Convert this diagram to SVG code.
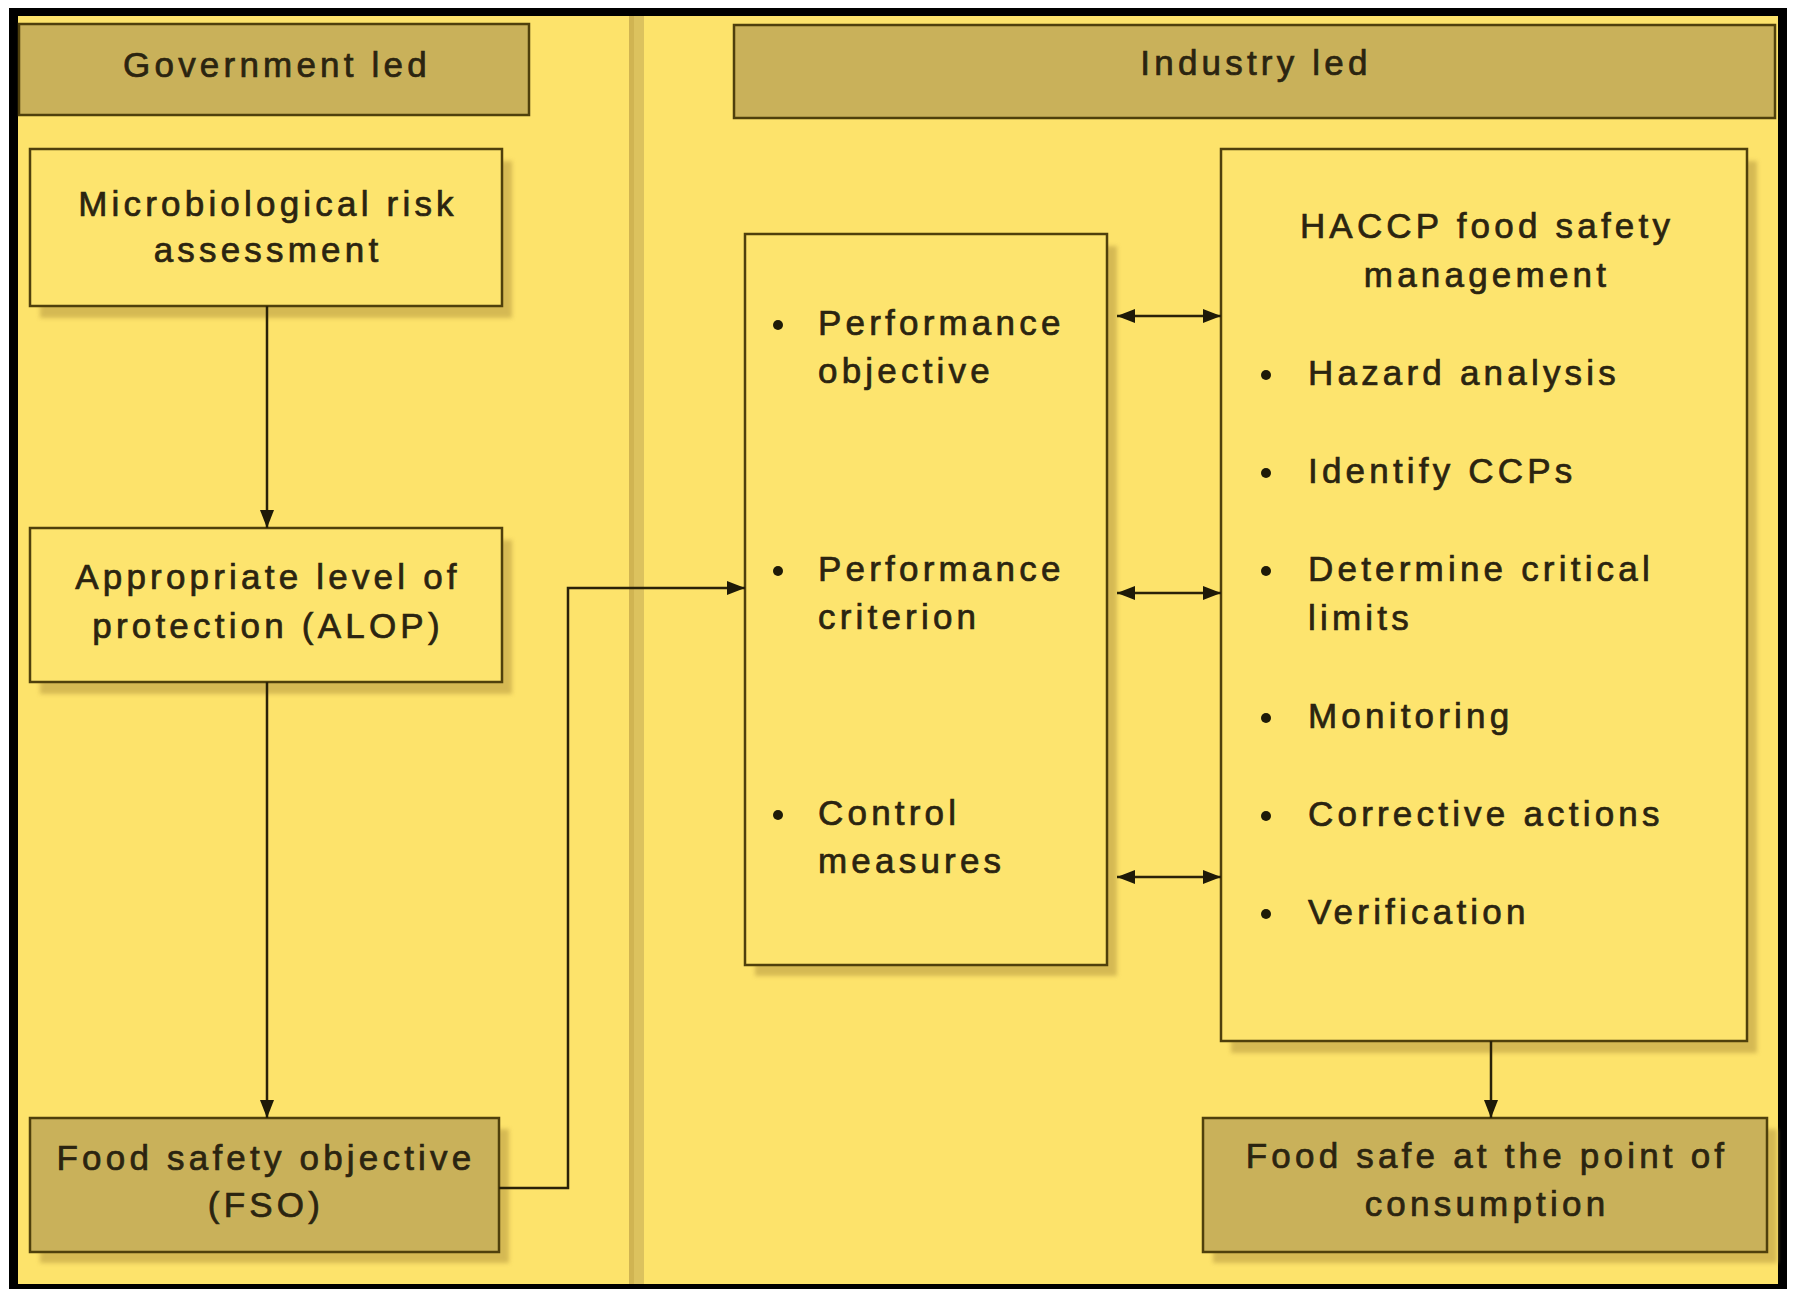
<svg xmlns="http://www.w3.org/2000/svg" width="1795" height="1289" viewBox="0 0 1795 1289">
  <style>
    .bg { fill: #fde36b; }
    .box { fill: #fde46e; stroke: #4f400c; stroke-width: 2.5; }
    .dark { fill: #c9b15a; stroke: #4f400c; stroke-width: 2.5; }
    .shadow { fill: #cfb250; opacity: 0.85; }
    text { font-family: "Liberation Sans", Arial, sans-serif; font-size: 35px; letter-spacing: 4.2px; fill: #2b2410; stroke: #2b2410; stroke-width: 0.7px; }
    .c { text-anchor: middle; }
    .bullet { fill: #1e1a08; }
    .conn { fill: none; stroke: #2a2208; stroke-width: 2.5; }
  </style>
  <defs>
    <filter id="blur" x="-5%" y="-5%" width="110%" height="110%">
      <feGaussianBlur stdDeviation="2"/>
    </filter>
    <marker id="arrow" viewBox="0 0 18 14" refX="18" refY="7" markerWidth="18" markerHeight="14" markerUnits="userSpaceOnUse" orient="auto-start-reverse">
      <path d="M0,0 L18,7 L0,14 z" fill="#1e1a08"/>
    </marker>
  </defs>

  <!-- frame -->
  <rect x="0" y="0" width="1795" height="1289" fill="#ffffff"/>
  <rect x="9" y="8" width="1778" height="1281" fill="#000000"/>
  <rect x="18" y="16" width="1760" height="1268" class="bg"/>

  <!-- divider stripe -->
  <rect x="629" y="16" width="15" height="1268" fill="#dcc25e"/>
  <rect x="629" y="16" width="5" height="1268" fill="#d0b452"/>

  <g id="government-led">
    <rect x="19" y="24" width="510" height="91" class="dark"/>
    <text x="277" y="77" class="c">Government led</text>
  </g>

  <g id="industry-led">
    <rect x="734" y="25" width="1041" height="93" class="dark"/>
    <text x="1256" y="75" class="c">Industry led</text>
  </g>

  <g id="microbiological-risk-assessment">
    <rect x="40" y="161" width="472" height="157" class="shadow" filter="url(#blur)"/>
    <rect x="30" y="149" width="472" height="157" class="box"/>
    <text x="268" y="216" class="c">Microbiological risk</text>
    <text x="268" y="262" class="c">assessment</text>
  </g>

  <g id="alop">
    <rect x="40" y="540" width="472" height="154" class="shadow" filter="url(#blur)"/>
    <rect x="30" y="528" width="472" height="154" class="box"/>
    <text x="268" y="589" class="c">Appropriate level of</text>
    <text x="268" y="638" class="c">protection (ALOP)</text>
  </g>

  <g id="fso">
    <rect x="40" y="1129" width="469" height="134" class="shadow" filter="url(#blur)"/>
    <rect x="30" y="1118" width="469" height="134" class="dark"/>
    <text x="266" y="1170" class="c">Food safety objective</text>
    <text x="266" y="1217" class="c">(FSO)</text>
  </g>

  <g id="performance-box">
    <rect x="755" y="246" width="362" height="730" class="shadow" filter="url(#blur)"/>
    <rect x="745" y="234" width="362" height="731" class="box"/>
    <circle cx="778" cy="325" r="5" class="bullet"/>
    <text x="818" y="335">Performance</text>
    <text x="818" y="383">objective</text>
    <circle cx="778" cy="571" r="5" class="bullet"/>
    <text x="818" y="581">Performance</text>
    <text x="818" y="629">criterion</text>
    <circle cx="778" cy="815" r="5" class="bullet"/>
    <text x="818" y="825">Control</text>
    <text x="818" y="873">measures</text>
  </g>

  <g id="haccp">
    <rect x="1231" y="161" width="526" height="892" class="shadow" filter="url(#blur)"/>
    <rect x="1221" y="149" width="526" height="892" class="box"/>
    <text x="1487" y="238" class="c">HACCP food safety</text>
    <text x="1487" y="287" class="c">management</text>
    <circle cx="1266" cy="375" r="5" class="bullet"/>
    <text x="1308" y="385">Hazard analysis</text>
    <circle cx="1266" cy="473" r="5" class="bullet"/>
    <text x="1308" y="483">Identify CCPs</text>
    <circle cx="1266" cy="571" r="5" class="bullet"/>
    <text x="1308" y="581">Determine critical</text>
    <text x="1308" y="630">limits</text>
    <circle cx="1266" cy="718" r="5" class="bullet"/>
    <text x="1308" y="728">Monitoring</text>
    <circle cx="1266" cy="816" r="5" class="bullet"/>
    <text x="1308" y="826">Corrective actions</text>
    <circle cx="1266" cy="914" r="5" class="bullet"/>
    <text x="1308" y="924">Verification</text>
  </g>

  <g id="food-safe">
    <rect x="1213" y="1129" width="564" height="134" class="shadow" filter="url(#blur)"/>
    <rect x="1203" y="1118" width="564" height="134" class="dark"/>
    <text x="1487" y="1168" class="c">Food safe at the point of</text>
    <text x="1487" y="1216" class="c">consumption</text>
  </g>

  <g id="connectors">
    <path d="M267,306 V528" class="conn" marker-end="url(#arrow)"/>
    <path d="M267,682 V1118" class="conn" marker-end="url(#arrow)"/>
    <path d="M499,1188 H568 V588 H745" class="conn" marker-end="url(#arrow)"/>
    <path d="M1117,316 H1221" class="conn" marker-start="url(#arrow)" marker-end="url(#arrow)"/>
    <path d="M1117,593 H1221" class="conn" marker-start="url(#arrow)" marker-end="url(#arrow)"/>
    <path d="M1117,877 H1221" class="conn" marker-start="url(#arrow)" marker-end="url(#arrow)"/>
    <path d="M1491,1041 V1118" class="conn" marker-end="url(#arrow)"/>
  </g>
</svg>
